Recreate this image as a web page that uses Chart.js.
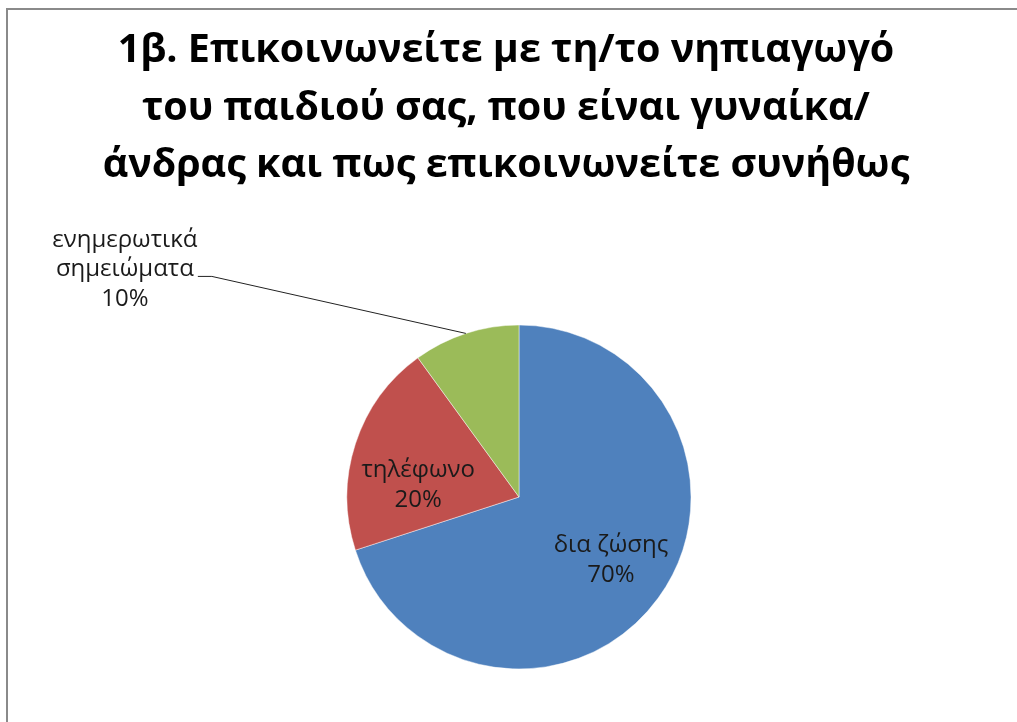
<!DOCTYPE html>
<html>
<head>
<meta charset="utf-8">
<script src="https://cdn.jsdelivr.net/npm/chart.js@4.4.0/dist/chart.umd.min.js"></script>
<style>
  html, body { margin: 0; padding: 0; background: #fff; width: 1017px; height: 722px; overflow: hidden; }
  #frame { position: absolute; left: 6px; top: 8px; width: 1100px; height: 800px; border: 2px solid #8a8a8a; box-sizing: border-box; }
  #wrap { position: absolute; left: 0; top: 0; width: 1017px; height: 722px; }
</style>
</head>
<body>
<div id="frame"></div>
<div id="wrap"><canvas id="c" width="1017" height="722"></canvas></div>
<script>
// Chart text and values
const titleLines = [
  '1β. Επικοινωνείτε με τη/το νηπιαγωγό',
  'του παιδιού σας, που είναι γυναίκα/',
  'άνδρας και πως επικοινωνείτε συνήθως'
];
const categories = [['δια ζώσης'], ['τηλέφωνο'], ['ενημερωτικά', 'σημειώματα']];
const shares = [70, 20, 10];
const sliceColors = ['#4F81BD', '#C0504D', '#9BBB59'];

// Multi-line heading drawn across the top of the canvas
const headingPlugin = {
  id: 'heading',
  afterDraw(chart, args, opts) {
    const ctx = chart.ctx;
    ctx.save();
    ctx.font = opts.font;
    ctx.fillStyle = opts.color;
    ctx.textAlign = 'center';
    ctx.textBaseline = 'alphabetic';
    opts.lines.forEach((t, k) => ctx.fillText(t, opts.x, opts.firstBaseline + k * opts.lineHeight));
    ctx.restore();
  }
};

// Category name + percentage for every slice, placed from the arc geometry
const sliceLabelPlugin = {
  id: 'sliceLabels',
  afterDatasetsDraw(chart, args, opts) {
    const ctx = chart.ctx;
    const meta = chart.getDatasetMeta(0);
    const values = chart.data.datasets[0].data;
    ctx.save();
    ctx.font = opts.font;
    ctx.fillStyle = opts.color;
    ctx.textAlign = 'center';
    ctx.textBaseline = 'middle';
    meta.data.forEach((arc, i) => {
      const p = opts.placement[i];
      const { x, y, startAngle, endAngle, outerRadius } =
        arc.getProps(['x', 'y', 'startAngle', 'endAngle', 'outerRadius'], true);
      const mid = (startAngle + endAngle) / 2;
      const lines = [].concat(chart.data.labels[i], values[i] + '%');
      let cx, cy;
      if (p.outside) {
        const ex = x + Math.cos(mid) * outerRadius;
        const ey = y + Math.sin(mid) * outerRadius;
        cx = ex + p.dx;
        cy = ey + p.dy;
        ctx.beginPath();
        ctx.moveTo(ex, ey);
        ctx.lineTo(cx + p.elbow[0], cy + p.elbow[1]);
        ctx.lineTo(cx + p.end[0], cy + p.end[1]);
        ctx.strokeStyle = opts.leaderColor;
        ctx.lineWidth = 1;
        ctx.stroke();
      } else {
        const a = mid + p.turn * Math.PI / 180;
        cx = x + Math.cos(a) * outerRadius * p.r;
        cy = y + Math.sin(a) * outerRadius * p.r;
      }
      const n = lines.length;
      lines.forEach((t, k) => ctx.fillText(t, cx, cy + (k - (n - 1) / 2) * opts.lineHeight));
    });
    ctx.restore();
  }
};

new Chart(document.getElementById('c'), {
  type: 'pie',
  data: {
    labels: categories,
    datasets: [{
      data: shares,
      backgroundColor: sliceColors,
      borderColor: 'rgba(255,255,255,0.45)',
      borderWidth: 1,
      hoverOffset: 0
    }]
  },
  options: {
    responsive: false,
    animation: false,
    events: [],
    radius: 172,
    layout: { padding: { top: 325, bottom: 53, left: 21, right: 0 } },
    plugins: {
      legend: { display: false },
      title: { display: false },
      tooltip: { enabled: false },
      heading: {
        lines: titleLines,
        font: 'bold 39.5px "Open Sans"',
        color: '#000',
        x: 506,
        firstBaseline: 62,
        lineHeight: 57.5
      },
      sliceLabels: {
        font: '24px "Open Sans"',
        color: '#1a1a1a',
        leaderColor: '#222',
        lineHeight: 29.5,
        placement: [
          { turn: -1.6, r: 0.648 },
          { turn: -11.2, r: 0.59 },
          { outside: true, dx: -341, dy: -64, elbow: [87, 7], end: [73, 7] }
        ]
      }
    }
  },
  plugins: [headingPlugin, sliceLabelPlugin]
});
</script>
</body>
</html>
